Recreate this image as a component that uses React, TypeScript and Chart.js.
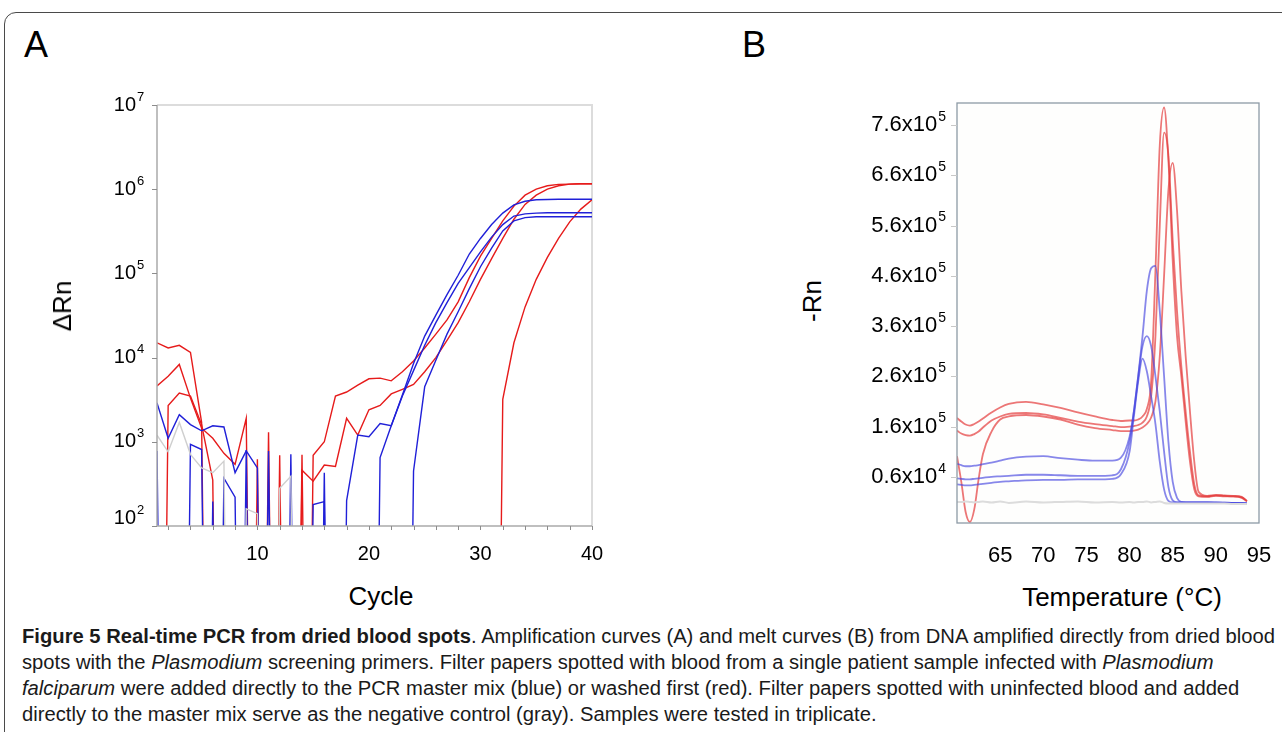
import React, { useEffect, useLayoutEffect, useRef } from 'react';
import { Chart, registerables } from 'chart.js';

Chart.register(...registerables);

const FONT = '"Liberation Sans", Arial, Helvetica, sans-serif';

// ---------- Panel A: amplification curves (log scale) ----------
const BELOW = 1e-8; // below detection -> falls off the bottom of the log axis
const cycles = [1, 2, 3, 4, 5, 6, 7, 8, 9, 10, 11, 12, 13, 14, 15, 16, 17, 18, 19, 20,
  21, 22, 23, 24, 25, 26, 27, 28, 29, 30, 31, 32, 33, 34, 35, 36, 37, 38, 39, 40];

const redA1 = [1.5e4, 1.3e4, 1.4e4, 1.15e4, 1.7e3, BELOW, BELOW, BELOW, BELOW, 620,
  BELOW, BELOW, BELOW, BELOW, 690, 1.0e3, 3.5e3, 3.9e3, 4.7e3, 5.6e3,
  5.7e3, 5.3e3, 6.8e3, 9.1e3, 1.3e4, 1.9e4, 2.8e4, 4.6e4, 8.9e4, 1.6e5,
  2.6e5, 4.2e5, 6.3e5, 8.5e5, 1.0e6, 1.1e6, 1.14e6, 1.15e6, 1.16e6, 1.16e6];
const redA2 = [4.6e3, 6.0e3, 8.3e3, 3.3e3, 1.45e3, 1.1e3, 730, 540, 1.9e3, BELOW,
  BELOW, 690, BELOW, 460, 340, 530, 510, 1.9e3, 1.2e3, 2.4e3,
  2.7e3, 3.7e3, 4.2e3, 4.8e3, 6.8e3, 1.0e4, 1.6e4, 2.6e4, 4.6e4, 8.5e4,
  1.5e5, 2.6e5, 4.4e5, 6.6e5, 8.5e5, 1.0e6, 1.1e6, 1.15e6, 1.16e6, 1.16e6];
const redA3 = [BELOW, 2.7e3, 3.8e3, 3.5e3, 1.6e3, 350, BELOW, BELOW, BELOW, BELOW,
  1.3e3, BELOW, BELOW, 700, BELOW, BELOW, BELOW, BELOW, BELOW, BELOW,
  BELOW, BELOW, BELOW, BELOW, BELOW, BELOW, BELOW, BELOW, BELOW, BELOW,
  BELOW, 3.2e3, 1.5e4, 4.0e4, 8.5e4, 1.55e5, 2.6e5, 4.1e5, 5.8e5, 7.5e5];
const blueA1 = [2.9e3, 1.1e3, 2.1e3, 1.6e3, 1.35e3, 1.55e3, 1.5e3, 430, 780, 490,
  BELOW, BELOW, BELOW, BELOW, BELOW, BELOW, BELOW, 200, 1.2e3, 1.15e3,
  1.65e3, 1.55e3, 3.6e3, 8.5e3, 1.8e4, 3.2e4, 5.6e4, 9.5e4, 1.7e5, 2.6e5,
  3.8e5, 5.2e5, 6.5e5, 7.2e5, 7.5e5, 7.55e5, 7.6e5, 7.6e5, 7.6e5, 7.6e5];
const blueA2 = [780, BELOW, BELOW, 930, 810, BELOW, 370, 220, BELOW, BELOW,
  780, BELOW, BELOW, BELOW, 180, 195, BELOW, BELOW, BELOW, BELOW,
  650, 1.55e3, 3.5e3, 7.0e3, 1.4e4, 2.6e4, 4.5e4, 7.6e4, 1.17e5, 1.8e5,
  2.7e5, 3.8e5, 4.8e5, 5.1e5, 5.2e5, 5.25e5, 5.25e5, 5.25e5, 5.25e5, 5.25e5];
const blueA3 = [BELOW, BELOW, BELOW, BELOW, BELOW, 195, BELOW, BELOW, 800, BELOW,
  BELOW, BELOW, 710, BELOW, BELOW, 430, BELOW, BELOW, BELOW, BELOW,
  BELOW, BELOW, BELOW, 450, 4.5e3, 9.3e3, 1.9e4, 3.5e4, 6.6e4, 1.2e5,
  2.0e5, 3.2e5, 4.2e5, 4.6e5, 4.7e5, 4.7e5, 4.7e5, 4.7e5, 4.7e5, 4.7e5];
const grayA1 = [1.2e3, 760, 1.7e3, 710, 490, 430, 590, BELOW, 160, 140,
  BELOW, 280, 390, BELOW, BELOW, BELOW, BELOW, BELOW, BELOW, BELOW,
  BELOW, BELOW, BELOW, BELOW, BELOW, BELOW, BELOW, BELOW, BELOW, BELOW,
  BELOW, BELOW, BELOW, BELOW, BELOW, BELOW, BELOW, BELOW, BELOW, BELOW];

const yExponentsA = [2, 3, 4, 5, 6, 7];
const xLabelsA = [10, 20, 30, 40];
const xTickMarksA = [2, 4, 6, 8, 10, 12, 14, 16, 18, 20, 22, 24, 26, 28, 30, 32, 34, 36, 38, 40];

// ---------- Panel B: melt curves (values in units of 10^5) ----------
const meltTemps = [60, 60.5, 61, 61.5, 62, 62.5, 63, 64, 65, 66, 68, 70, 72, 74, 76, 78, 79, 80, 80.5, 81,
  81.5, 82, 82.5, 83, 83.5, 84, 84.5, 85, 85.5, 86, 86.5, 87, 87.5, 88, 89, 90, 91, 92, 93, 93.6];
const meltRed1 = [1.77, 1.70, 1.64, 1.62, 1.65, 1.70, 1.76, 1.88, 1.98, 2.05, 2.09, 2.04, 1.97, 1.88, 1.80, 1.73, 1.71, 1.72, 1.72, 1.74,
  1.80, 1.95, 2.5, 4.7, 7.2, 7.95, 6.9, 4.9, 3.4, 2.6, 1.7, 0.9, 0.35, 0.21, 0.2, 0.22, 0.21, 0.21, 0.18, 0.11];
const meltRed2 = [1.52, 1.46, 1.43, 1.42, 1.45, 1.50, 1.58, 1.72, 1.80, 1.85, 1.87, 1.84, 1.77, 1.70, 1.65, 1.61, 1.59, 1.60, 1.61, 1.63,
  1.68, 1.80, 2.2, 3.4, 5.6, 7.45, 7.0, 5.3, 3.9, 2.8, 1.9, 1.1, 0.45, 0.23, 0.21, 0.23, 0.22, 0.21, 0.19, 0.12];
const meltRed3 = [1.01, 0.5, -0.1, -0.3, -0.05, 0.55, 1.05, 1.5, 1.74, 1.8, 1.83, 1.8, 1.74, 1.64, 1.57, 1.53, 1.51, 1.51, 1.52, 1.54,
  1.58, 1.65, 1.78, 2.1, 3.0, 4.6, 6.3, 6.85, 5.9, 4.3, 3.0, 1.9, 0.9, 0.3, 0.22, 0.24, 0.23, 0.22, 0.2, 0.12];
const meltBlue1 = [0.86, 0.83, 0.81, 0.81, 0.82, 0.83, 0.85, 0.88, 0.92, 0.96, 1.00, 1.01, 0.97, 0.94, 0.92, 0.92, 0.98, 1.4, 1.9, 2.6,
  3.4, 4.3, 4.75, 4.8, 3.9, 2.6, 1.3, 0.5, 0.18, 0.1, 0.09, 0.09, 0.09, 0.09, 0.09, 0.09, 0.09, 0.08, 0.08, 0.07];
const meltBlue2 = [0.57, 0.56, 0.55, 0.55, 0.56, 0.57, 0.58, 0.60, 0.61, 0.62, 0.64, 0.64, 0.63, 0.62, 0.62, 0.63, 0.75, 1.3, 1.9, 2.6,
  3.2, 3.4, 3.2, 2.6, 1.9, 1.1, 0.4, 0.13, 0.09, 0.09, 0.09, 0.09, 0.09, 0.09, 0.09, 0.09, 0.08, 0.08, 0.08, 0.07];
const meltBlue3 = [0.45, 0.44, 0.43, 0.43, 0.44, 0.45, 0.46, 0.48, 0.50, 0.51, 0.53, 0.54, 0.54, 0.55, 0.55, 0.56, 0.65, 1.1, 1.8, 2.5,
  2.95, 2.7, 2.2, 1.65, 0.9, 0.35, 0.12, 0.09, 0.09, 0.09, 0.09, 0.09, 0.09, 0.09, 0.09, 0.08, 0.08, 0.08, 0.07, 0.07];
const meltGray = [0.10, 0.10, 0.11, 0.10, 0.09, 0.10, 0.11, 0.09, 0.11, 0.08, 0.11, 0.09, 0.10, 0.11, 0.09, 0.10, 0.09, 0.10, 0.09, 0.10,
  0.10, 0.11, 0.09, 0.10, 0.11, 0.08, 0.07, 0.07, 0.07, 0.07, 0.07, 0.07, 0.07, 0.07, 0.07, 0.07, 0.07, 0.06, 0.06, 0.06];

const yTicksB = [0.6, 1.6, 2.6, 3.6, 4.6, 5.6, 6.6, 7.6];
const yLabelsB = ['0.6x10', '1.6x10', '2.6x10', '3.6x10', '4.6x10', '5.6x10', '6.6x10', '7.6x10'];
const yExpB = ['4', '5', '5', '5', '5', '5', '5', '5'];
const xTicksB = [65, 70, 75, 80, 85, 90, 95];

const captionLines = [
  [{ t: 'Figure 5 Real-time PCR from dried blood spots', b: true }, { t: '. Amplification curves (A) and melt curves (B) from DNA amplified directly from dried blood' }],
  [{ t: 'spots with the ' }, { t: 'Plasmodium', i: true }, { t: ' screening primers. Filter papers spotted with blood from a single patient sample infected with ' }, { t: 'Plasmodium', i: true }],
  [{ t: 'falciparum', i: true }, { t: ' were added directly to the PCR master mix (blue) or washed first (red). Filter papers spotted with uninfected blood and added' }],
  [{ t: 'directly to the master mix serve as the negative control (gray). Samples were tested in triplicate.' }],
];

const pts = (xs: number[], ys: number[]) => xs.map((x, i) => ({ x, y: ys[i] }));

const RED_A = '#e61b1b';
const BLUE_A = '#2020d8';
const GRAY_A = '#cfcfcf';
const RED_B = 'rgba(228,60,60,0.7)';
const BLUE_B = 'rgba(70,70,225,0.65)';
const GRAY_B = '#dcdcdc';

const panelAPlugin = {
  id: 'panelA',
  beforeDatasetsDraw(chart: any) {
    const { ctx, chartArea: a } = chart;
    ctx.save();
    ctx.strokeStyle = '#dcdcdc';
    ctx.lineWidth = 2;
    ctx.beginPath();
    ctx.moveTo(a.left, a.top);
    ctx.lineTo(a.right, a.top);
    ctx.lineTo(a.right, a.bottom);
    ctx.stroke();
    ctx.restore();
  },
  afterDatasetsDraw(chart: any) {
    const { ctx, chartArea: a, scales } = chart;
    ctx.save();
    ctx.strokeStyle = '#ababab';
    ctx.lineWidth = 1.5;
    ctx.beginPath();
    ctx.moveTo(a.left, a.top);
    ctx.lineTo(a.left, a.bottom);
    ctx.lineTo(a.right, a.bottom);
    ctx.stroke();
    ctx.strokeStyle = '#8c8c8c';
    ctx.lineWidth = 1;
    ctx.beginPath();
    yExponentsA.forEach((e) => {
      const py = Math.round(scales.y.getPixelForValue(Math.pow(10, e))) + 0.5;
      ctx.moveTo(a.left - 5, py);
      ctx.lineTo(a.left, py);
    });
    xTickMarksA.forEach((c) => {
      const px = Math.round(scales.x.getPixelForValue(c)) + 0.5;
      ctx.moveTo(px, a.bottom);
      ctx.lineTo(px, a.bottom + 4);
    });
    ctx.stroke();
    ctx.restore();
  },
  afterDraw(chart: any) {
    const { ctx, chartArea: a, scales } = chart;
    ctx.save();
    ctx.fillStyle = '#000';
    ctx.textBaseline = 'middle';
    yExponentsA.forEach((e) => {
      const py = Math.min(scales.y.getPixelForValue(Math.pow(10, e)), a.bottom - 8);
      ctx.font = `20px ${FONT}`;
      ctx.textAlign = 'right';
      ctx.fillText('10', a.left - 21, py);
      ctx.font = `13px ${FONT}`;
      ctx.textAlign = 'left';
      ctx.fillText(String(e), a.left - 20, py - 8);
    });
    ctx.font = `20px ${FONT}`;
    ctx.textAlign = 'center';
    xLabelsA.forEach((v) => {
      ctx.fillText(String(v), scales.x.getPixelForValue(v), a.bottom + 28);
    });
    ctx.restore();
  },
};

const panelBPlugin = {
  id: 'panelB',
  beforeDatasetsDraw(chart: any) {
    const { ctx, chartArea: a } = chart;
    ctx.save();
    ctx.fillStyle = '#fefefd';
    ctx.fillRect(a.left, a.top, a.right - a.left, a.bottom - a.top);
    ctx.restore();
  },
  afterDatasetsDraw(chart: any) {
    const { ctx, chartArea: a, scales } = chart;
    ctx.save();
    ctx.strokeStyle = '#8d9aa6';
    ctx.lineWidth = 1.3;
    ctx.strokeRect(a.left, a.top, a.right - a.left, a.bottom - a.top);
    ctx.strokeStyle = '#c8c8c8';
    ctx.lineWidth = 1;
    ctx.beginPath();
    yTicksB.forEach((v) => {
      const py = Math.round(scales.y.getPixelForValue(v)) + 0.5;
      ctx.moveTo(a.left - 6, py);
      ctx.lineTo(a.left, py);
    });
    ctx.stroke();
    ctx.restore();
  },
  afterDraw(chart: any) {
    const { ctx, chartArea: a, scales } = chart;
    ctx.save();
    ctx.fillStyle = '#000';
    ctx.textBaseline = 'middle';
    yTicksB.forEach((v, i) => {
      const py = scales.y.getPixelForValue(v);
      ctx.font = `14px ${FONT}`;
      const sw = ctx.measureText(yExpB[i]).width;
      const supX = a.left - 11 - sw;
      ctx.textAlign = 'left';
      ctx.fillText(yExpB[i], supX, py - 8);
      ctx.font = `22px ${FONT}`;
      ctx.textAlign = 'right';
      ctx.fillText(yLabelsB[i], supX - 1, py);
    });
    ctx.font = `22px ${FONT}`;
    ctx.textAlign = 'center';
    xTicksB.forEach((v) => {
      ctx.fillText(String(v), scales.x.getPixelForValue(v), a.bottom + 33);
    });
    ctx.restore();
  },
};

function lineA(data: number[], color: string) {
  return {
    data: pts(cycles, data),
    borderColor: color,
    borderWidth: 1.4,
    pointRadius: 0,
    tension: 0,
    fill: false,
  };
}

function lineB(data: number[], color: string, width = 1.8) {
  return {
    data: pts(meltTemps, data),
    borderColor: color,
    borderWidth: width,
    pointRadius: 0,
    cubicInterpolationMode: 'monotone' as const,
    fill: false,
  };
}

export default function App() {
  const refA = useRef<HTMLCanvasElement>(null);
  const refB = useRef<HTMLCanvasElement>(null);
  const capRef = useRef<HTMLDivElement>(null);

  useLayoutEffect(() => {
    const el = capRef.current;
    if (!el) return;
    const first = el.children[0] as HTMLElement;
    const w = first.getBoundingClientRect().width;
    if (w > 0) el.style.transform = `scaleX(${1253 / w})`;
  }, []);

  useEffect(() => {
    const chartA = new Chart(refA.current as HTMLCanvasElement, {
      type: 'line',
      data: {
        datasets: [
          lineA(grayA1, GRAY_A),
          lineA(blueA1, BLUE_A),
          lineA(blueA2, BLUE_A),
          lineA(blueA3, BLUE_A),
          lineA(redA1, RED_A),
          lineA(redA2, RED_A),
          lineA(redA3, RED_A),
        ],
      },
      options: {
        animation: false,
        responsive: false,
        events: [],
        layout: { padding: { left: 97, top: 20, right: 28, bottom: 49 } },
        plugins: { legend: { display: false }, tooltip: { enabled: false } },
        scales: {
          x: { type: 'linear', min: 1, max: 40, display: false },
          y: { type: 'logarithmic', min: 100, max: 1e7, display: false },
        },
      },
      plugins: [panelAPlugin],
    } as any);

    const chartB = new Chart(refB.current as HTMLCanvasElement, {
      type: 'line',
      data: {
        datasets: [
          lineB(meltGray, GRAY_B, 2),
          lineB(meltBlue1, BLUE_B),
          lineB(meltBlue2, BLUE_B),
          lineB(meltBlue3, BLUE_B),
          lineB(meltRed1, RED_B),
          lineB(meltRed2, RED_B),
          lineB(meltRed3, RED_B),
        ],
      },
      options: {
        animation: false,
        responsive: false,
        events: [],
        layout: { padding: { left: 117, top: 18, right: 21, bottom: 52 } },
        plugins: { legend: { display: false }, tooltip: { enabled: false } },
        scales: {
          x: { type: 'linear', min: 60, max: 95, display: false },
          y: { type: 'linear', min: -0.32, max: 8.04, display: false },
        },
      },
      plugins: [panelBPlugin],
    } as any);

    return () => {
      chartA.destroy();
      chartB.destroy();
    };
  }, []);

  const abs = (extra: React.CSSProperties): React.CSSProperties => ({ position: 'absolute', ...extra });
  const centered = (x: number, y: number, rot = false): React.CSSProperties => ({
    position: 'absolute',
    left: x,
    top: y,
    transform: `translate(-50%, -50%)${rot ? ' rotate(-90deg)' : ''}`,
    whiteSpace: 'nowrap',
    fontSize: 26,
    lineHeight: '30px',
    color: '#000',
  });

  return (
    <div style={{ position: 'fixed', left: 0, top: 0, width: 1282, height: 732, overflow: 'hidden', background: '#fff', fontFamily: FONT }}>
      <div style={abs({ left: 4, top: 12, width: 1400, height: 800, border: '1.5px solid #4a4a4a', borderTopLeftRadius: 12, boxSizing: 'border-box' })} />
      <div style={abs({ left: 24, top: 27, fontSize: 36, lineHeight: '36px', color: '#000' })}>A</div>
      <div style={abs({ left: 742, top: 27, fontSize: 36, lineHeight: '36px', color: '#000' })}>B</div>

      <canvas ref={refA} width={560} height={490} style={abs({ left: 60, top: 85, width: 560, height: 490 })} />
      <canvas ref={refB} width={440} height={490} style={abs({ left: 840, top: 85, width: 440, height: 490 })} />

      <div style={centered(62, 306, true)}>ΔRn</div>
      <div style={centered(381, 596)}>Cycle</div>
      <div style={centered(812, 301, true)}>-Rn</div>
      <div style={centered(1122, 597)}>Temperature (°C)</div>

      <div ref={capRef} style={abs({ left: 22, top: 623, transformOrigin: 'left top', fontSize: 20, lineHeight: '26px', color: '#1a1a1a' })}>
        {captionLines.map((line, li) => (
          <div key={li} style={{ whiteSpace: 'nowrap', width: 'max-content' }}>
            {line.map((s: any, si) => (
              <span key={si} style={{ fontWeight: s.b ? 'bold' : 'normal', fontStyle: s.i ? 'italic' : 'normal' }}>{s.t}</span>
            ))}
          </div>
        ))}
      </div>
    </div>
  );
}
